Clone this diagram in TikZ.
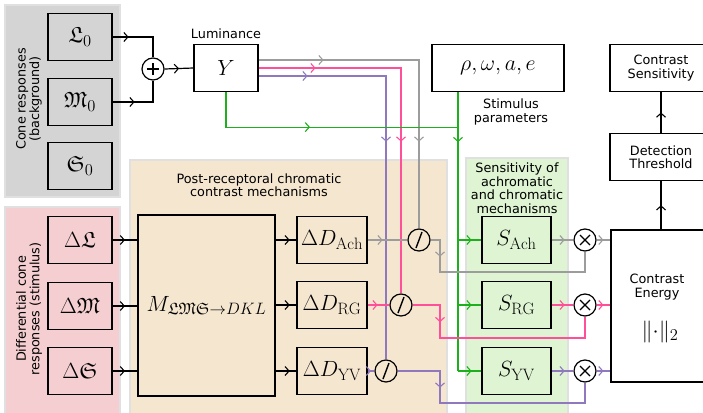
\documentclass[tikz,border=0pt]{standalone}
\usepackage{fix-cm}
\usepackage{amsmath,amssymb}
\usepackage{fontspec}
\setsansfont{DejaVu Sans}
\usepackage{tikz}
\usetikzlibrary{arrows.meta}
\usetikzlibrary{decorations.markings}
\usetikzlibrary{positioning}
\DeclareMathSizes{22}{22}{16.5}{12}

\definecolor{wireach}{HTML}{9C9C9C}
\definecolor{wirerg}{HTML}{FF4F98}
\definecolor{wireyv}{HTML}{8F78BD}
\definecolor{wirestim}{HTML}{1DB01D}
\definecolor{panelbg}{HTML}{D4D4D4}
\definecolor{panelcone}{HTML}{F4CED0}
\definecolor{panelmech}{HTML}{F5E6D0}
\definecolor{panelsens}{HTML}{DEF4D2}

\tikzset{
  panel/.style={fill=#1, draw=black!12, line width=1.5pt},
  txt/.style={font=\sffamily\fontsize{12.8}{13.5}\selectfont, align=center, inner sep=0pt},
  mth/.style={font=\fontsize{22}{26}\selectfont},
  block/.style={draw, line width=1.2pt, minimum width=64pt, minimum height=47pt, inner sep=0pt, mth},
  opnode/.style={circle, draw, line width=1.2pt, minimum size=22pt, inner sep=0pt},
  plusop/.style={opnode, path picture={
      \draw[line width=1.1pt] ([xshift=-6pt]path picture bounding box.center) -- ([xshift=6pt]path picture bounding box.center)
        ([yshift=-6pt]path picture bounding box.center) -- ([yshift=6pt]path picture bounding box.center);}},
  timesop/.style={opnode, path picture={
      \draw[line width=1.1pt] ([shift={(-5pt,-5pt)}]path picture bounding box.center) -- ([shift={(5pt,5pt)}]path picture bounding box.center)
        ([shift={(-5pt,5pt)}]path picture bounding box.center) -- ([shift={(5pt,-5pt)}]path picture bounding box.center);}},
  divop/.style={opnode, path picture={
      \draw[line width=1.4pt] ([shift={(-3pt,-8pt)}]path picture bounding box.center) -- ([shift={(3pt,8pt)}]path picture bounding box.center);}},
  arrowat/.style={postaction={decorate, decoration={markings,
      mark=at position #1 with {\arrow[line width=1.1pt]{Straight Barb[length=4pt,width=9pt]}}}}},
  wire/.style={line width=1.2pt},
  achwire/.style={wire, wireach},
  rgwire/.style={wire, wirerg},
  yvwire/.style={wire, wireyv},
  stimwire/.style={wire, wirestim},
}

\begin{document}
\begin{tikzpicture}[x=1pt, y=-1pt]
  \useasboundingbox (0,0) rectangle (703,412);
  \clip (0,0) rectangle (703,412);

  % panels
  \draw[panel=panelbg] (5,5) rectangle (120,197);
  \draw[panel=panelcone] (5,207) rectangle (120,420);
  \draw[panel=panelmech] (130,160) rectangle (447,420);
  \draw[panel=panelsens] (466,158) rectangle (568,420);

  \node[txt, rotate=90] (bglabel) at (29,99) {Cone responses\\(background)};
  \node[txt, rotate=90] (stlabel) at (29,309) {Differential cone\\responses (stimulus)};
  \node[txt] (mechlabel) at (259,185) {Post-receptoral chromatic\\contrast mechanisms};
  \node[txt] (senslabel) at (517,188) {Sensitivity of\\achromatic\\and chromatic\\mechanisms};

  % cone responses
  \node[block] (L0) at (80,37) {$\mathfrak{L}_0$};
  \node[block] (M0) at (80,102) {$\mathfrak{M}_0$};
  \node[block] (S0) at (80,166) {$\mathfrak{S}_0$};
  \node[plusop] (sum) at (153,69) {};
  \node[block] (Y) at (226,68) {$Y$};
  \node[txt, above=5pt of Y] (lumlabel) {Luminance};

  \node[block] (dL) at (80,240) {$\Delta\mathfrak{L}$};
  \node[block] (dM) at (80,306) {$\Delta\mathfrak{M}$};
  \node[block] (dS) at (80,371) {$\Delta\mathfrak{S}$};
  \node[block, minimum width=137pt, minimum height=181pt] (lms) at (206.5,305.5)
    {$M_{\mathfrak{L}\mathfrak{M}\mathfrak{S}\rightarrow DKL}$};

  \node[block, minimum width=70pt] (dDach) at (332,240) {$\Delta D_{\mathrm{Ach}}$};
  \node[block, minimum width=70pt] (dDrg) at (332,305) {$\Delta D_{\mathrm{RG}}$};
  \node[block, minimum width=70pt] (dDyv) at (332,371) {$\Delta D_{\mathrm{YV}}$};
  \node[divop] (divach) at (419,240) {};
  \node[divop] (divrg) at (401,305) {};
  \node[divop] (divyv) at (386,371) {};

  % stimulus
  \node[block, minimum width=132pt] (stim) at (498,68) {$\rho,\omega,a,e$};
  \node[txt] (stimlabel) at (511,112) {Stimulus\\parameters};
  \coordinate (sjoin) at ([xshift=-40pt]stim.south);

  \node[block, minimum width=69pt] (Sach) at (516.5,240) {$S_{\mathrm{Ach}}$};
  \node[block, minimum width=69pt] (Srg) at (516.5,305) {$S_{\mathrm{RG}}$};
  \node[block, minimum width=69pt] (Syv) at (516.5,371) {$S_{\mathrm{YV}}$};
  \node[timesop] (mulach) at (585,240) {};
  \node[timesop] (mulrg) at (585,305) {};
  \node[timesop] (mulyv) at (585,371) {};

  % output side
  \node[block, minimum width=101pt, minimum height=152pt] (energy) at (661.5,306) {};
  \node[txt] (energylabel) at (657,287) {Contrast\\Energy};
  \node[mth] (normlabel) at (660,332) {$\|{\cdot}\|_2$};
  \node[block, minimum width=102pt, txt] (detect) at (661,157) {Detection\\Threshold};
  \node[block, minimum width=102pt, txt] (csens) at (661,68) {Contrast\\Sensitivity};

  % background luminance
  \draw[wire, arrowat=16pt] (L0.east) -| (sum.north);
  \draw[wire, arrowat=22pt] (M0.east) -| (sum.south);
  \draw[wire, arrowat=0.5] (sum.east) -- (Y.west);
  \draw[achwire, arrowat=65pt, arrowat=242pt] ([yshift=8pt]Y.east) -| (divach.north);
  \draw[rgwire, arrowat=57pt, arrowat=216pt] (Y.east) -| (divrg.north);
  \draw[yvwire, arrowat=49pt, arrowat=193pt] ([yshift=-8pt]Y.east) -| (divyv.north);
  \draw[stimwire, arrowat=119pt] (Y.south) -- ++(0,35) coordinate (ybend) -- (ybend -| sjoin);
  \draw[stimwire, arrowat=50pt] (sjoin) -- (sjoin |- Syv.west);
  \foreach \s in {Sach,Srg,Syv}
    \draw[stimwire, arrowat=0.58] (sjoin |- \s.west) -- (\s.west);

  % stimulus path
  \foreach \c in {dL,dM,dS}
    \draw[wire, arrowat=0.5] (\c.east) -- (\c.east -| lms.west);
  \foreach \d in {dDach,dDrg,dDyv}
    \draw[wire, arrowat=0.68] (\d.west -| lms.east) -- (\d.west);
  \draw[achwire, arrowat=15pt] (dDach.east) -- (divach.west);
  \draw[rgwire, arrowat=10pt] (dDrg.east) -- (divrg.west);
  \draw[yvwire, arrowat=0.5] (dDyv.east) -- (divyv.west);

  \coordinate (bendx) at (440,0);
  \draw[achwire, arrowat=26pt] (divach.east) -- (divach.east -| bendx) -- ++(0,32) -| (mulach.south);
  \draw[rgwire, arrowat=44.5pt] (divrg.east) -- (divrg.east -| bendx) -- ++(0,33) -| (mulrg.south);
  \draw[yvwire, arrowat=59pt] (divyv.east) -- (divyv.east -| bendx) -- ++(0,32) -| (mulyv.south);

  \draw[achwire, arrowat=0.6] (Sach.east) -- (mulach.west);
  \draw[rgwire, arrowat=0.6] (Srg.east) -- (mulrg.west);
  \draw[yvwire, arrowat=0.6] (Syv.east) -- (mulyv.west);
  \draw[achwire, arrowat=0.5] (mulach.east) -- (mulach.east -| energy.west);
  \draw[rgwire, arrowat=0.5] (mulrg.east) -- (mulrg.east -| energy.west);
  \draw[yvwire, arrowat=0.5] (mulyv.east) -- (mulyv.east -| energy.west);

  \draw[wire, arrowat=0.5] (energy.north -| detect.south) -- (detect.south);
  \draw[wire, arrowat=0.5] (detect.north) -- (csens.south);
\end{tikzpicture}
\end{document}
